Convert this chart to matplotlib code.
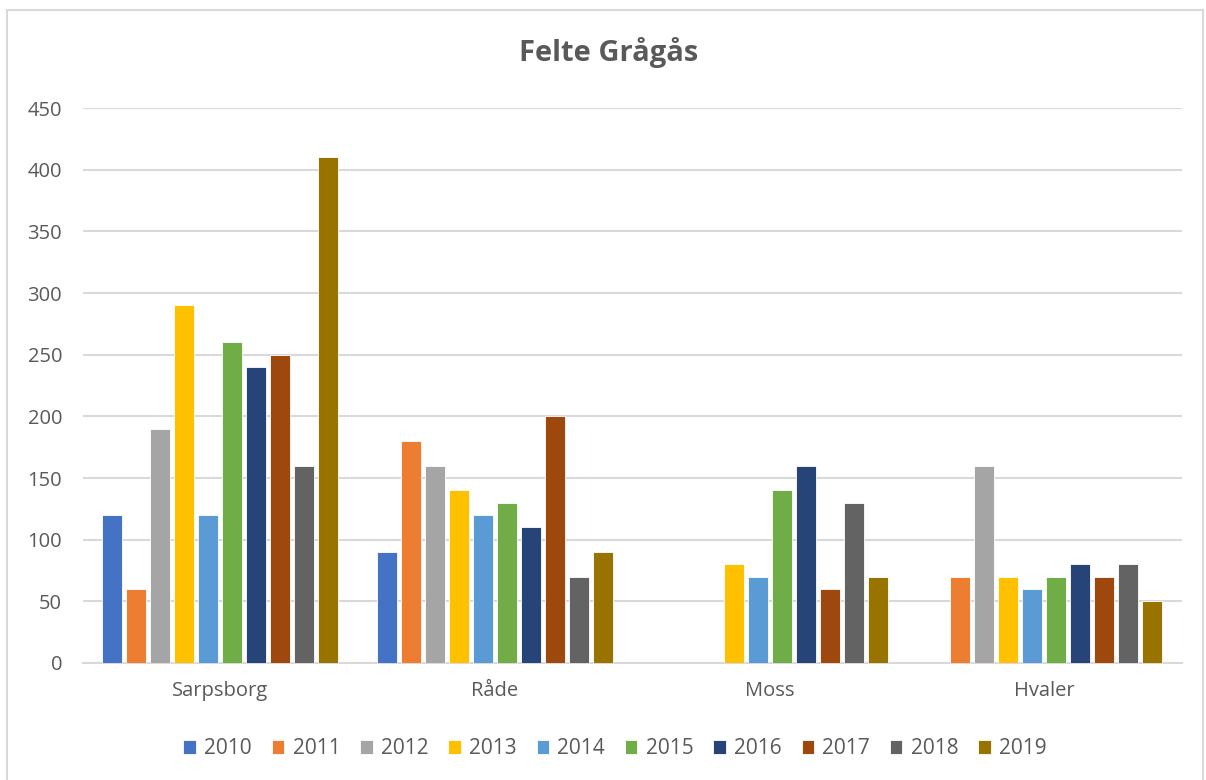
import numpy as np
import matplotlib.pyplot as plt
from matplotlib.patches import Rectangle

plt.rcParams['font.family'] = ['Open Sans', 'DejaVu Sans']

# Data
kommuner = ["Sarpsborg", "Råde", "Moss", "Hvaler"]
years = ["2010", "2011", "2012", "2013", "2014", "2015", "2016", "2017", "2018", "2019"]
felt = {
    "2010": [120, 90, 0, 0],
    "2011": [60, 180, 0, 70],
    "2012": [190, 160, 0, 160],
    "2013": [290, 140, 80, 70],
    "2014": [120, 120, 70, 60],
    "2015": [260, 130, 140, 70],
    "2016": [240, 110, 160, 80],
    "2017": [250, 200, 60, 70],
    "2018": [160, 70, 130, 80],
    "2019": [410, 90, 70, 50],
}
colors = ["#4472C4", "#ED7D31", "#A5A5A5", "#FFC000", "#5B9BD5",
          "#70AD47", "#264478", "#9E480E", "#636363", "#997300"]

fig = plt.figure(figsize=(12.06, 7.8), dpi=100)
ax = fig.add_axes([0.0688, 0.15, 0.911, 0.7115])

# frame around the whole chart
fig.patches.append(Rectangle((7 / 1206, -0.01), 1196 / 1206, 1 - 10 / 780 + 0.01,
                             transform=fig.transFigure, fill=False,
                             edgecolor="#D9D9D9", linewidth=1.5))

x = np.arange(len(kommuner))
step = 0.0873
width = 0.0727
for i, (yr, c) in enumerate(zip(years, colors)):
    offs = (i - 4.5) * step
    ax.bar(x + offs, felt[yr], width, color=c, label=yr,
           edgecolor="white", linewidth=0.6, zorder=3)

ax.set_xlim(-0.5, len(kommuner) - 0.5)
ax.set_ylim(0, 450)
ax.set_yticks(range(0, 451, 50))
ax.set_xticks(x)
ax.set_xticklabels(kommuner)
ax.grid(axis="y", color="#D9D9D9", linewidth=1.5, zorder=0)
for s in ["top", "right", "left"]:
    ax.spines[s].set_visible(False)
ax.spines["bottom"].set_color("#D9D9D9")
ax.spines["bottom"].set_linewidth(1.5)
ax.tick_params(axis="both", length=0, labelsize=14.5, colors="#595959")
ax.tick_params(axis="y", pad=15)
ax.tick_params(axis="x", pad=13)

fig.text(0.505, 0.933, "Felte Grågås", ha="center", va="center",
         fontsize=21, fontweight="bold", color="#595959")

leg = fig.legend(loc="center", bbox_to_anchor=(0.51, 0.040), ncol=10,
                 frameon=False, fontsize=15, handlelength=0.6,
                 handleheight=0.6, handletextpad=0.4, columnspacing=0.95,
                 labelcolor="#595959")

fig.savefig("out.png", dpi=100)
